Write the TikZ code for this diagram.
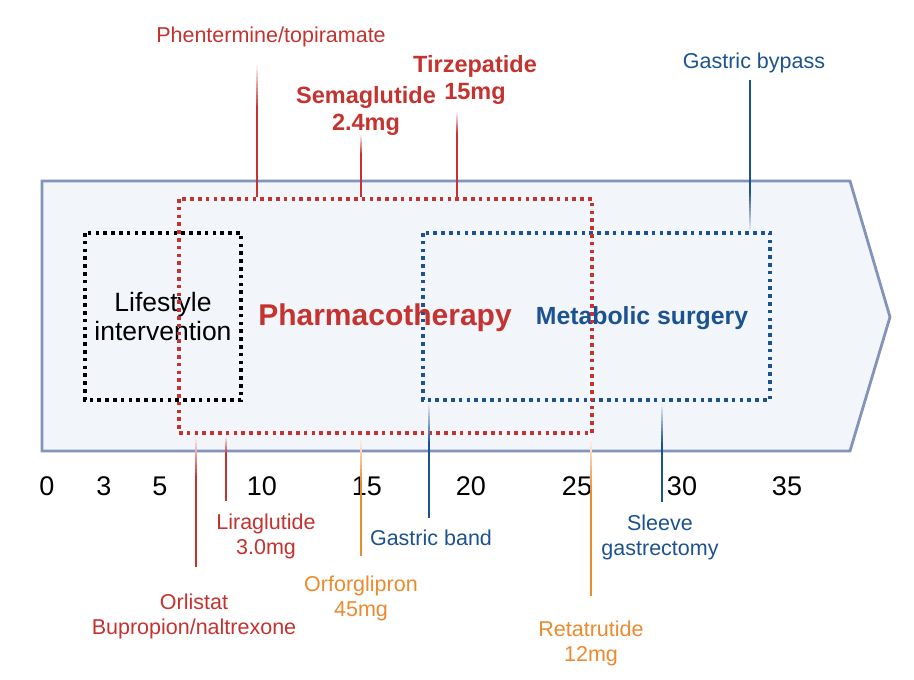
\documentclass[tikz,border=0pt]{standalone}
\usepackage{fontspec}
\setmainfont{Liberation Sans}
\usetikzlibrary{calc}
\definecolor{cred}{HTML}{C4332F}
\definecolor{cblue}{HTML}{1C5290}
\definecolor{corange}{HTML}{EC8A2E}
\definecolor{arrfill}{HTML}{F2F6FB}
\definecolor{arrline}{HTML}{8393BA}
% color, faded end, fade end, solid end
\newcommand\fadeconn[4]{%
  \foreach \i in {0,...,11}{%
    \pgfmathsetmacro\pct{8+\i*92/11}%
    \draw[conn,color=#1!\pct!white] ($(#2)!\i/12!(#3)$) -- ($(#2)!\i/12+1/12+0.01!(#3)$);}%
  \draw[conn,#1] (#3) -- (#4);}
\begin{document}
\begin{tikzpicture}[x=1pt,y=-1pt,
  conn/.style={line width=2.9pt},
  dotbox/.style={line width=3.6pt,dash pattern=on 3.6pt off 4.2pt},
  lbl/.style={font=\fontsize{21.5}{25}\selectfont,align=center,inner sep=0pt},
  lblb/.style={font=\fontsize{23.5}{27}\selectfont\bfseries,align=center,inner sep=0pt},
  num/.style={font=\fontsize{27}{30}\selectfont,inner sep=0pt}]
\useasboundingbox[fill=white] (0,0) rectangle (914,680);
% arrow body
\draw[fill=arrfill,draw=arrline,line width=2.8pt,line join=miter]
  (42,181) -- (850,181) -- (890,317) -- (850,451) -- (42,451) -- cycle;
% boxes
\draw[dotbox,black] (85,233) rectangle (241,400);
\draw[dotbox,cblue] (423,233) rectangle (770,400);
\node[font=\fontsize{26.5}{29}\selectfont,align=center,inner sep=0pt] (life) at (163,317) {Lifestyle\\intervention};
\node[font=\fontsize{30}{34}\selectfont\bfseries,text=cred,inner sep=0pt] (pharm) at (385,318) {Pharmacotherapy};
\node[font=\fontsize{24.8}{28}\selectfont\bfseries,text=cblue,inner sep=0pt] (surg) at (642,318) {Metabolic surgery};
\draw[dotbox,cred] (179,199) rectangle (592,433);
% axis numbers
\foreach \v/\x in {0/47,3/104,5/160,10/262,15/367,20/471,25/577,30/682,35/787}
  \node[num] (t\v) at (\x,486) {\v};
% labels
\node[lbl,text=cred] (phen) at (271,37) {Phentermine/topiramate};
\node[lblb,text=cred] (sema) at (366,111) {Semaglutide\\2.4mg};
\node[lblb,text=cred] (tirz) at (475,80) {Tirzepatide\\15mg};
\node[lbl,text=cblue] (bypass) at (754,63) {Gastric bypass};
\node[lbl,text=cred] (orli) at (194,616) {Orlistat\\Bupropion/naltrexone};
\node[lbl,text=cred] (lira) at (266,536) {Liraglutide\\3.0mg};
\node[lbl,text=corange] (orfo) at (361,598) {Orforglipron\\45mg};
\node[lbl,text=cblue] (gband) at (431,538) {Gastric band};
\node[lbl,text=corange] (reta) at (591,643) {Retatrutide\\12mg};
\node[lbl,text=cblue] (sleeve) at (660,537) {Sleeve\\gastrectomy};
% connector ends
\coordinate (phenA) at (257,66);  \coordinate (phenM) at (257,110); \coordinate (phenB) at (257,197);
\coordinate (semaA) at (361,135); \coordinate (semaM) at (361,155); \coordinate (semaB) at (361,197);
\coordinate (tirzA) at (457,112); \coordinate (tirzM) at (457,135); \coordinate (tirzB) at (457,197);
\coordinate (orliA) at (196,436); \coordinate (orliM) at (196,480); \coordinate (orliB) at (196,567);
\coordinate (liraA) at (226,436); \coordinate (liraM) at (226,455); \coordinate (liraB) at (226,501);
\coordinate (orfoA) at (361,436); \coordinate (orfoM) at (361,485); \coordinate (orfoB) at (361,556);
\coordinate (gbA) at (429,402);   \coordinate (gbM) at (429,445);   \coordinate (gbB) at (429,518);
\coordinate (retaA) at (591,436); \coordinate (retaM) at (591,495); \coordinate (retaB) at (591,596);
\coordinate (slA) at (662,403);   \coordinate (slM) at (662,445);   \coordinate (slB) at (662,502);
\coordinate (byA) at (750,232);   \coordinate (byM) at (750,190);   \coordinate (byB) at (750,80);
% connectors
\fadeconn{cred}{phenA}{phenM}{phenB}
\fadeconn{cred}{semaA}{semaM}{semaB}
\fadeconn{cred}{tirzA}{tirzM}{tirzB}
\fadeconn{cred}{orliA}{orliM}{orliB}
\fadeconn{cred}{liraA}{liraM}{liraB}
\fadeconn{corange}{orfoA}{orfoM}{orfoB}
\fadeconn{cblue}{gbA}{gbM}{gbB}
\fadeconn{corange}{retaA}{retaM}{retaB}
\fadeconn{cblue}{slA}{slM}{slB}
\fadeconn{cblue}{byA}{byM}{byB}
\end{tikzpicture}
\end{document}
